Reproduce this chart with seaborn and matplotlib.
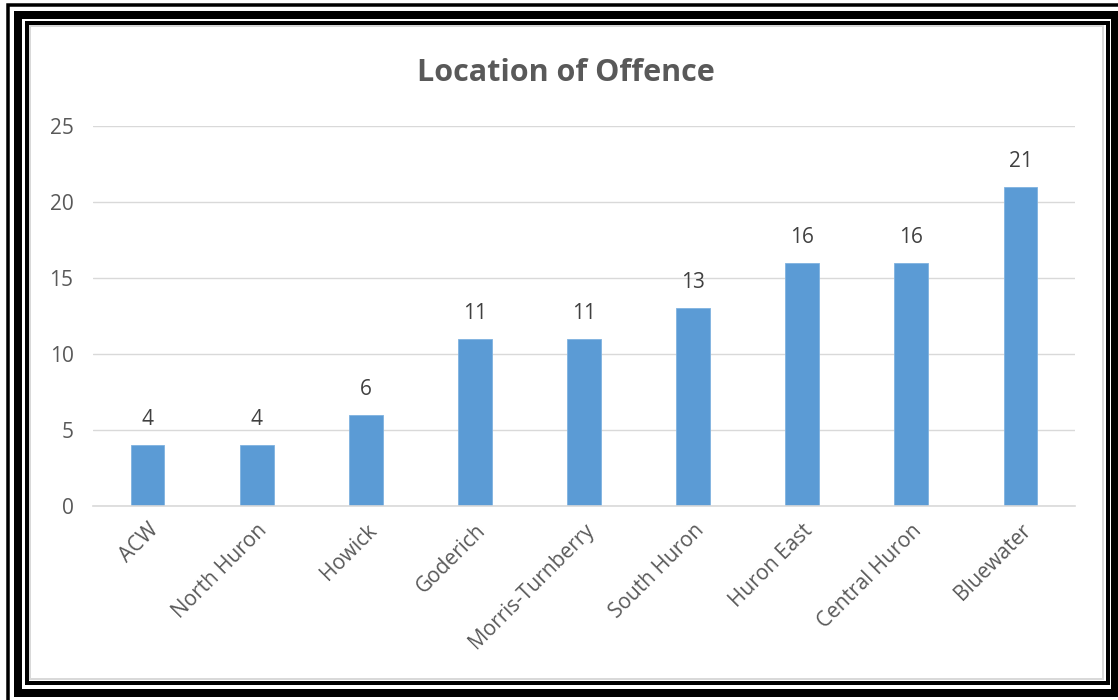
import pandas as pd
import seaborn as sns
import matplotlib.pyplot as plt
from matplotlib.patches import Rectangle

# Données du graphique
locations = ["ACW", "North Huron", "Howick", "Goderich", "Morris-Turnberry",
             "South Huron", "Huron East", "Central Huron", "Bluewater"]
counts = [4, 4, 6, 11, 11, 13, 16, 16, 21]
y_ticks = [0, 5, 10, 15, 20, 25]

df = pd.DataFrame({"location": locations, "count": counts})

sns.set_theme(style="white")
plt.rcParams['font.family'] = ['Open Sans', 'DejaVu Sans']

W, H = 1118, 700
fig = plt.figure(figsize=(W / 100, H / 100), dpi=100)
fig.patch.set_facecolor("white")

# axes placé en pixels
x0, x1, y_top, y_bot = 93, 1075, 126, 506
ax = fig.add_axes([x0 / W, 1 - y_bot / H, (x1 - x0) / W, (y_bot - y_top) / H])

grey = "#595959"
sns.barplot(data=df, x="location", y="count", color="#5B9BD5", width=0.31,
            saturation=1, ax=ax, edgecolor="#7FB2E0", linewidth=0.6)
ax.bar_label(ax.containers[0], padding=11, fontsize=15, color="#404040")

ax.set_ylim(0, 25)
ax.set_xlim(-0.5, len(locations) - 0.5)
ax.set_yticks(y_ticks)
ax.yaxis.grid(True, color="#D9D9D9", linewidth=1)
ax.set_axisbelow(True)
for s in ["top", "right", "left"]:
    ax.spines[s].set_visible(False)
ax.spines["bottom"].set_color("#D9D9D9")
ax.spines["bottom"].set_linewidth(1.2)
ax.tick_params(axis="y", length=0, pad=14, labelsize=15, labelcolor=grey)
ax.tick_params(axis="x", length=0, pad=10, labelsize=15, labelcolor=grey)
plt.setp(ax.get_xticklabels(), rotation=45, ha="right", rotation_mode="anchor")
ax.set_xlabel("")
ax.set_ylabel("")

fig.text(566 / W, 1 - 73 / H, "Location of Offence", ha="center", va="center",
         fontsize=22, fontweight="bold", color=grey)


# cadre noir autour du graphique (coordonnées en pixels)
def frame(left, top, right, bottom, lw, color="black"):
    fig.add_artist(Rectangle((left / W, 1 - bottom / H), (right - left) / W, (bottom - top) / H,
                             transform=fig.transFigure, fill=False, edgecolor=color,
                             linewidth=lw * 0.72, clip_on=False))


frame(8, 4.5, 1130, 715, 3.5)
frame(18, 15, 1114.5, 692.5, 8)
frame(27, 23, 1107.5, 683, 4)
frame(30, 26, 1103, 679, 2, color="#D9D9D9")

plt.savefig("out.png", dpi=100)
